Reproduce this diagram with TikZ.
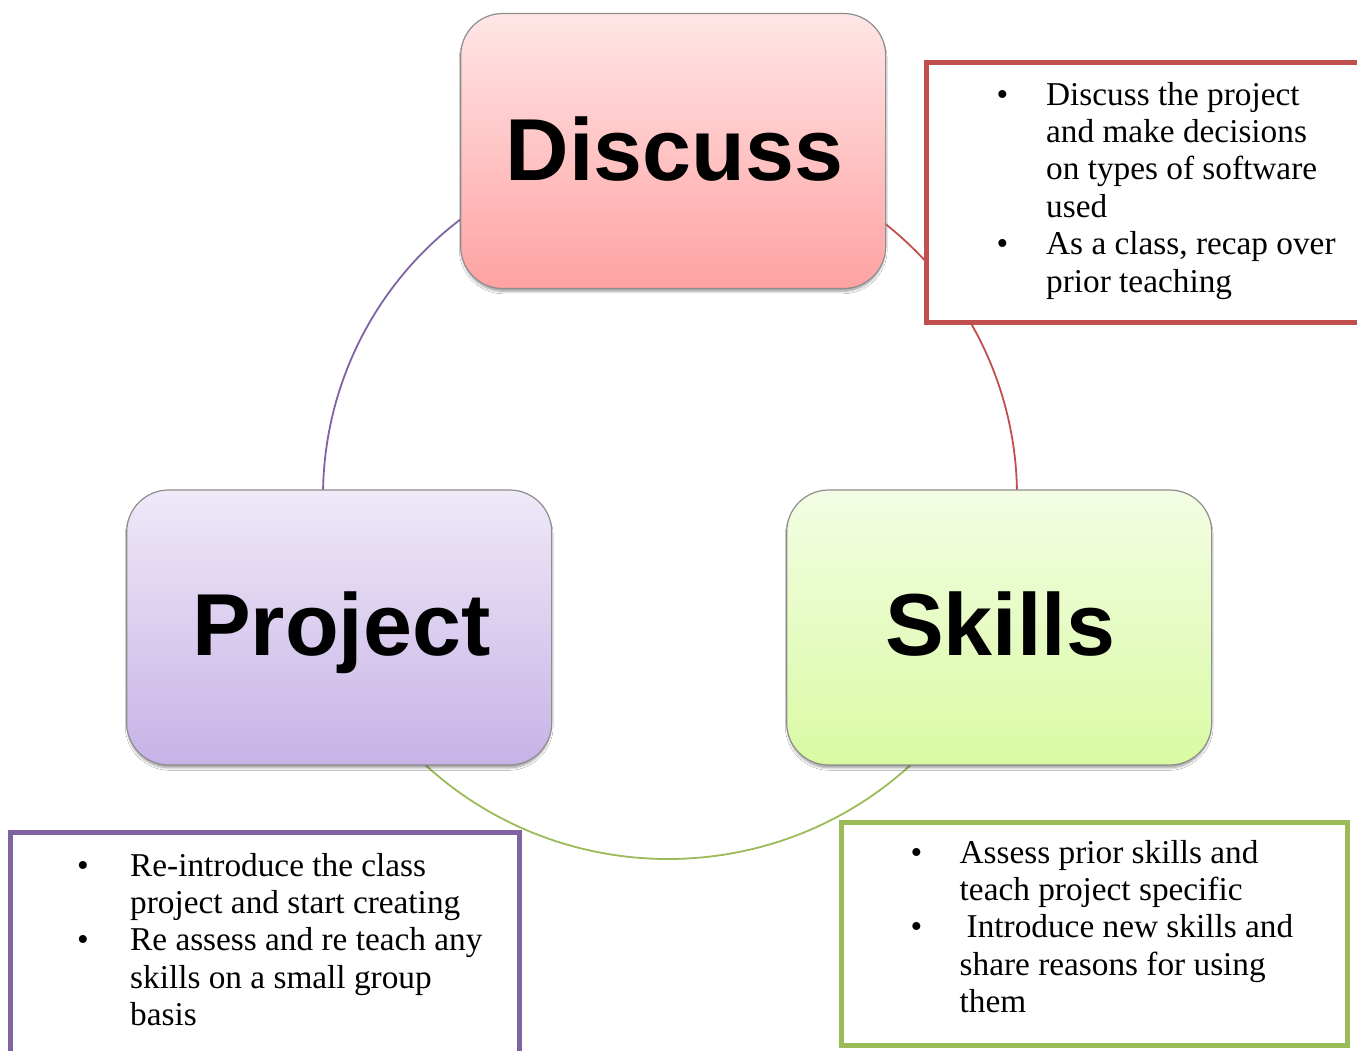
\documentclass[tikz,border=0pt]{standalone}
\usepackage{fontspec}
\setmainfont{Liberation Serif}
\newfontfamily\titlefont{Liberation Sans}
\usetikzlibrary{shadows.blur}
\definecolor{redacc}{HTML}{C0504D}
\definecolor{puracc}{HTML}{8064A2}
\definecolor{grnacc}{HTML}{9BBB59}
\definecolor{stageedge}{HTML}{8E8E8E}
\definecolor{dtop}{HTML}{FFE6E6}
\definecolor{dbot}{HTML}{FFA2A2}
\definecolor{ptop}{HTML}{EFE9F8}
\definecolor{pbot}{HTML}{C7B3E6}
\definecolor{stop}{HTML}{F3FDE4}
\definecolor{sbot}{HTML}{D9FAA3}
\newcommand\mybul[1]{\makebox[#1][l]{\hspace*{-1.5pt}\textbullet}}
\begin{document}
\begin{tikzpicture}[x=1pt,y=-1pt,
  stage/.style={draw=stageedge, line width=1.2pt, rounded corners=42pt,
    minimum width=425pt, minimum height=275pt, inner sep=0pt,
    blur shadow={shadow xshift=0pt, shadow yshift=-3.5pt, shadow blur radius=2.5pt, shadow blur steps=6, shadow opacity=40, shadow scale=0.995}},
  title/.style={font=\titlefont\bfseries\fontsize{88}{100}\selectfont, inner sep=0pt, anchor=base},
  infobox/.style={fill=white, line width=5pt, inner sep=0pt},
  info/.style={font=\fontsize{33.3}{37.4}\selectfont, inner sep=0pt, anchor=base west, align=left},
  link/.style={line width=1.8pt}
]
\clip (0,0) rectangle (1357,1050);
\fill[white] (0,0) rectangle (1357,1050);

% cycle arcs
\coordinate (ctop) at (670,496);
\coordinate (cbot) at (668,499);
\draw[link, puracc] (ctop) ++(-125:347) arc[start angle=-125, end angle=-182, radius=347];
\draw[link, redacc] (ctop) ++(-55:347) arc[start angle=-55, end angle=2, radius=347];
\draw[link, grnacc] (cbot) ++(45:360) arc[start angle=45, end angle=135, radius=360];

% stage boxes
\node[stage, top color=dtop, bottom color=dbot] (discuss) at (673.2,151) {};
\node[stage, top color=ptop, bottom color=pbot] (project) at (339.2,627.5) {};
\node[stage, top color=stop, bottom color=sbot] (skills) at (999.2,627.5) {};
\node[title] (discussT) at (674.7,180) {Discuss};
\node[title] (projectT) at (341.3,655) {Project};
\node[title] (skillsT) at (1000,655.5) {Skills};

% info boxes
\node[infobox, draw=redacc, minimum width=473.5pt, minimum height=260pt] (redbox) at (1163.25,192.5) {};
\node[infobox, draw=puracc, minimum width=508.5pt, minimum height=267.5pt] (purbox) at (264.75,966.25) {};
\node[infobox, draw=grnacc, minimum width=505.5pt, minimum height=223.5pt] (grnbox) at (1094.25,933.75) {};

\node[info] (redtext) at (998,105) {\begin{tabular}[t]{@{}l@{}l@{}}
\mybul{48pt} & Discuss the project\\
 & and make decisions\\
 & on types of software\\
 & used\\
\mybul{48pt} & As a class, recap over\\
 & prior teaching
\end{tabular}};

\node[info] (purtext) at (78.5,876) {\begin{tabular}[t]{@{}l@{}l@{}}
\mybul{51.5pt} & Re-introduce the class\\
 & project and start creating\\
\mybul{51.5pt} & Re assess and re teach any\\
 & skills on a small group\\
 & basis
\end{tabular}};

\node[info] (grntext) at (912,863) {\begin{tabular}[t]{@{}l@{}l@{}}
\mybul{47.5pt} & Assess prior skills and\\
 & teach project specific\\
\mybul{47.5pt} & \hspace*{7pt}Introduce new skills and\\
 & share reasons for using\\
 & them
\end{tabular}};
\end{tikzpicture}
\end{document}
